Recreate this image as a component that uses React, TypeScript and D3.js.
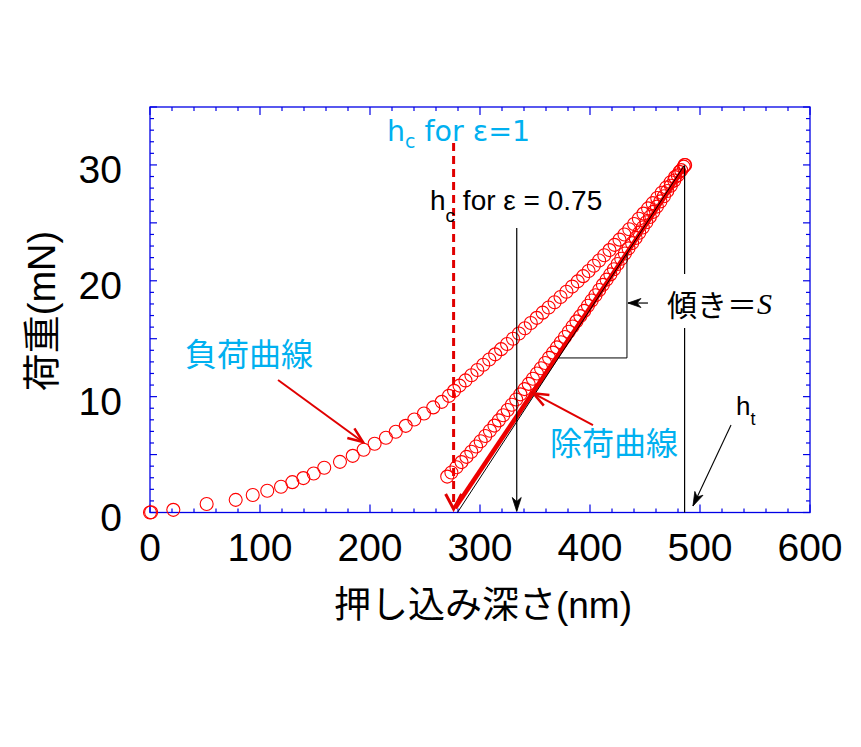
import React from "react";
import * as d3 from "d3";

// ---- data (depth nm, load mN) ----
const loadingDepth = [0, 1, 21.2, 51.5, 77.9, 93.4, 106.6, 119.1, 129.4, 139.4, 148.8, 158.4, 172.7, 184.3, 194.2, 204.2, 214.5, 223.4, 232.5, 240.3, 249.1, 257.5, 265.2, 271.8, 276.4, 281.4, 286.8, 292.2, 297.6, 303.0, 308.4, 313.8, 319.2, 324.6, 330.0, 335.4, 340.8, 346.2, 351.6, 357.0, 362.4, 367.8, 373.2, 378.6, 383.8, 388.8, 393.8, 398.7, 403.5, 408.3, 413.0, 417.7, 422.3, 426.8, 431.3, 435.7, 440.1, 444.4, 448.6, 452.8, 457.0, 461.1, 465.2, 469.3, 473.3, 477.3, 481.3, 485.2, 486.5];
const loadingLoad = [0, 0.02, 0.23, 0.74, 1.09, 1.51, 1.88, 2.22, 2.62, 2.97, 3.37, 3.86, 4.37, 4.89, 5.42, 5.93, 6.45, 6.97, 7.48, 8.03, 8.55, 9.07, 9.55, 10.07, 10.5, 10.95, 11.4, 11.85, 12.3, 12.75, 13.2, 13.65, 14.1, 14.55, 15.0, 15.45, 15.9, 16.35, 16.8, 17.25, 17.7, 18.15, 18.6, 19.05, 19.5, 19.95, 20.4, 20.85, 21.3, 21.75, 22.2, 22.65, 23.1, 23.55, 24.0, 24.45, 24.9, 25.35, 25.8, 26.25, 26.7, 27.15, 27.6, 28.05, 28.5, 28.95, 29.4, 29.85, 30.0];

const unloadingDepth = [486.0, 482.9, 479.8, 476.6, 473.5, 470.3, 467.2, 464.0, 460.8, 457.6, 454.4, 451.2, 448.0, 444.8, 441.5, 438.3, 435.0, 431.7, 428.4, 425.1, 421.8, 418.5, 415.1, 411.7, 408.4, 405.0, 401.5, 398.1, 394.7, 391.2, 387.7, 384.2, 380.7, 377.2, 373.6, 370.0, 366.4, 362.8, 359.2, 355.5, 351.8, 348.1, 344.3, 340.5, 336.7, 332.9, 329.0, 325.1, 321.1, 317.1, 313.1, 309.0, 304.8, 300.6, 296.4, 292.1, 287.7, 283.2, 278.6, 274.0, 270.2];
const unloadingLoad = [30, 29.55, 29.1, 28.65, 28.2, 27.75, 27.3, 26.85, 26.4, 25.95, 25.5, 25.05, 24.6, 24.15, 23.7, 23.25, 22.8, 22.35, 21.9, 21.45, 21.0, 20.55, 20.1, 19.65, 19.2, 18.75, 18.3, 17.85, 17.4, 16.95, 16.5, 16.05, 15.6, 15.15, 14.7, 14.25, 13.8, 13.35, 12.9, 12.45, 12.0, 11.55, 11.1, 10.65, 10.2, 9.75, 9.3, 8.85, 8.4, 7.95, 7.5, 7.05, 6.6, 6.15, 5.7, 5.25, 4.8, 4.35, 3.9, 3.45, 3.1];

// fitted/annotation lines (data units)
const fitLine = [[277.3, 0.39], [485.5, 29.73]];
const tangentLine = [[279.5, 0], [486, 30]];
const hcEps1 = 276;
const hcEps075 = 333.4;
const hMax = 486;
const slopeTriangle = [[371.3, 13.34], [433.6, 13.34], [433.6, 22.4]];

const xTickLabels = [0, 100, 200, 300, 400, 500, 600];
const yTickLabels = [0, 10, 20, 30];

const W = 861, H = 747;
const x = d3.scaleLinear().domain([0, 600]).range([150, 810]);
const y = d3.scaleLinear().domain([0, 35]).range([512.5, 107]);

const AXIS = "#0000e6";
const RED = "#ff0000";
const CYAN = "#00b0f0";

function filledHead(x1: number, y1: number, x2: number, y2: number, len = 13, hw = 4, notch = 4, color = "#000") {
  const dx = x2 - x1, dy = y2 - y1;
  const L = Math.hypot(dx, dy);
  const ux = dx / L, uy = dy / L;
  const nx = -uy, ny = ux;
  const bx = x2 - ux * len, by = y2 - uy * len;
  const mx = x2 - ux * (len - notch), my = y2 - uy * (len - notch);
  const d = `M${x2},${y2}L${bx + nx * hw},${by + ny * hw}L${mx},${my}L${bx - nx * hw},${by - ny * hw}Z`;
  return <path d={d} fill={color} stroke={color} strokeWidth={0.8} />;
}

function openHead(x1: number, y1: number, x2: number, y2: number, len = 14, hw = 6, color = RED, sw = 2.5) {
  const dx = x2 - x1, dy = y2 - y1;
  const L = Math.hypot(dx, dy);
  const ux = dx / L, uy = dy / L;
  const nx = -uy, ny = ux;
  const bx = x2 - ux * len, by = y2 - uy * len;
  const d = `M${bx + nx * hw},${by + ny * hw}L${x2},${y2}L${bx - nx * hw},${by - ny * hw}`;
  return <path d={d} fill="none" stroke={color} strokeWidth={sw} strokeLinejoin="miter" />;
}

export default function App() {
  const xMinor = d3.range(0, 601, 20);
  const yMinor = d3.range(0, 36, 1);
  const x0 = x.range()[0], x1 = x.range()[1];
  const yb = y.range()[0], yt = y.range()[1];

  const loadPts = loadingDepth.map((h, i) => [h, loadingLoad[i]]);
  const unloadPts = unloadingDepth.map((h, i) => [h, unloadingLoad[i]]);

  // annotation arrows
  const a1 = [x(116.4), y(11.44), x(193.6), y(6.08)];
  const a2 = [x(402.7), y(7.55), x(348.5), y(10.29)];
  const aHt = [x(528.2), y(7.55), x(493.6), y(0.56)];
  const aS = [x(452.7), y(18.08), x(434.5), y(18.08)];

  const tickFont = "'Liberation Sans', Arial, sans-serif";
  const jpFont = "'Liberation Sans', 'Noto Sans CJK JP', sans-serif";

  return (
    <svg width={W} height={H} style={{ position: "absolute", left: 0, top: 0, background: "#fff" }}>
      <rect x={0} y={0} width={W} height={H} fill="#fff" />
      {/* frame */}
      <rect x={x0} y={yt} width={x1 - x0} height={yb - yt} fill="none" stroke={AXIS} strokeWidth={1.3} />
      {/* x ticks */}
      {xMinor.map((v) => {
        const len = v % 100 === 0 ? 8 : 4;
        return (
          <g key={"xt" + v}>
            <line x1={x(v)} x2={x(v)} y1={yb} y2={yb - len} stroke={AXIS} strokeWidth={1.2} />
            <line x1={x(v)} x2={x(v)} y1={yt} y2={yt + len} stroke={AXIS} strokeWidth={1.2} />
          </g>
        );
      })}
      {yMinor.map((v) => {
        const len = v % 5 === 0 ? 7 : 4;
        return (
          <g key={"yt" + v}>
            <line x1={x0} x2={x0 + len} y1={y(v)} y2={y(v)} stroke={AXIS} strokeWidth={1.2} />
            <line x1={x1} x2={x1 - len} y1={y(v)} y2={y(v)} stroke={AXIS} strokeWidth={1.2} />
          </g>
        );
      })}
      {xTickLabels.map((v) => (
        <text key={"xl" + v} x={x(v)} y={547} textAnchor="middle" dominantBaseline="central" fontFamily={tickFont} fontSize={39} fill="#000">{v}</text>
      ))}
      {yTickLabels.map((v) => (
        <text key={"yl" + v} x={122} y={y(v) + 5} textAnchor="end" dominantBaseline="central" fontFamily={tickFont} fontSize={39} fill="#000">{v}</text>
      ))}
      {/* axis titles */}
      <text x={483} y={605} textAnchor="middle" dominantBaseline="central" fontFamily={jpFont} fontSize={37} fill="#000">押し込み深さ(nm)</text>
      <text transform="translate(42,311) rotate(-90)" textAnchor="middle" dominantBaseline="central" fontFamily={jpFont} fontSize={38} fill="#000">荷重(mN)</text>

      {/* hc for eps=1 dashed line */}
      <line x1={x(hcEps1)} x2={x(hcEps1)} y1={143} y2={y(0.3)} stroke="#e00000" strokeWidth={3} strokeDasharray="8,5" />
      {openHead(x(hcEps1), y(5), x(hcEps1), y(0.3), 15, 8, "#e00000", 3)}

      {/* data markers */}
      {unloadPts.map((p, i) => (
        <circle key={"u" + i} cx={x(p[0])} cy={y(p[1])} r={6.5} fill="none" stroke={RED} strokeWidth={1.1} />
      ))}
      {loadPts.map((p, i) => (
        <circle key={"l" + i} cx={x(p[0])} cy={y(p[1])} r={6.5} fill="none" stroke={RED} strokeWidth={1.1} />
      ))}

      {/* fitted line & tangent */}
      <line x1={x(fitLine[0][0])} y1={y(fitLine[0][1])} x2={x(fitLine[1][0])} y2={y(fitLine[1][1])} stroke="#ee0000" strokeWidth={4.5} />
      <line x1={x(tangentLine[0][0])} y1={y(tangentLine[0][1])} x2={x(tangentLine[1][0])} y2={y(tangentLine[1][1])} stroke="#000" strokeWidth={1} />

      {/* slope triangle */}
      <polyline points={slopeTriangle.map((p) => `${x(p[0])},${y(p[1])}`).join(" ")} fill="none" stroke="#000" strokeWidth={1} />

      {/* ht vertical */}
      <line x1={x(hMax)} x2={x(hMax)} y1={y(29.9)} y2={yb} stroke="#000" strokeWidth={1.2} />
      {/* hc eps 0.75 vertical */}
      <line x1={x(hcEps075)} x2={x(hcEps075)} y1={228} y2={yb - 2} stroke="#000" strokeWidth={1.2} />
      {filledHead(x(hcEps075), yb - 20, x(hcEps075), yb - 1, 14, 4.5, 4)}

      {/* slope label */}
      <rect x={658} y={274} width={126} height={54} fill="#fff" />
      <line x1={aS[0]} y1={aS[1]} x2={aS[2]} y2={aS[3]} stroke="#000" strokeWidth={1.2} />
      {filledHead(aS[0], aS[1], aS[2], aS[3], 13, 4.5, 4)}
      <text x={667} y={303} dominantBaseline="central" fontSize={30} fill="#000">
        <tspan fontFamily="'Noto Sans CJK JP', sans-serif">傾き＝</tspan>
        <tspan fontFamily="'Liberation Serif', serif" fontStyle="italic">S</tspan>
      </text>

      {/* ht arrow + label */}
      <line x1={aHt[0]} y1={aHt[1]} x2={aHt[2]} y2={aHt[3]} stroke="#000" strokeWidth={1.1} />
      {filledHead(aHt[0], aHt[1], aHt[2], aHt[3], 14, 4.5, 4)}
      <text x={736} y={415} fontFamily={tickFont} fontSize={26} fill="#000">
        h<tspan dy={10} fontSize={18}>t</tspan>
      </text>

      {/* hc for eps 0.75 label */}
      <text x={430} y={210} fontFamily={tickFont} fontSize={28} fill="#000">
        h<tspan dy={12} fontSize={19}>c</tspan><tspan dy={-12}> for ε = 0.75</tspan>
      </text>

      {/* hc for eps 1 label */}
      <text x={387} y={141} fontFamily="'DejaVu Sans', Verdana, sans-serif" fontSize={28.5} fill={CYAN}>
        h<tspan dy={7} fontSize={19}>c</tspan><tspan dy={-7}> for ε=1</tspan>
      </text>

      {/* curve labels */}
      <text x={249} y={352} textAnchor="middle" dominantBaseline="central" fontFamily="'Noto Sans CJK JP', sans-serif" fontSize={32} fill={CYAN}>負荷曲線</text>
      <line x1={a1[0]} y1={a1[1]} x2={a1[2]} y2={a1[3]} stroke="#e00000" strokeWidth={2} />
      {openHead(a1[0], a1[1], a1[2], a1[3], 15, 6, "#e00000", 2.5)}

      <text x={614} y={441} textAnchor="middle" dominantBaseline="central" fontFamily="'Noto Sans CJK JP', sans-serif" fontSize={32} fill={CYAN}>除荷曲線</text>
      <line x1={a2[0]} y1={a2[1]} x2={a2[2]} y2={a2[3]} stroke="#e00000" strokeWidth={2} />
      {openHead(a2[0], a2[1], a2[2], a2[3], 15, 6, "#e00000", 2.5)}
    </svg>
  );
}
